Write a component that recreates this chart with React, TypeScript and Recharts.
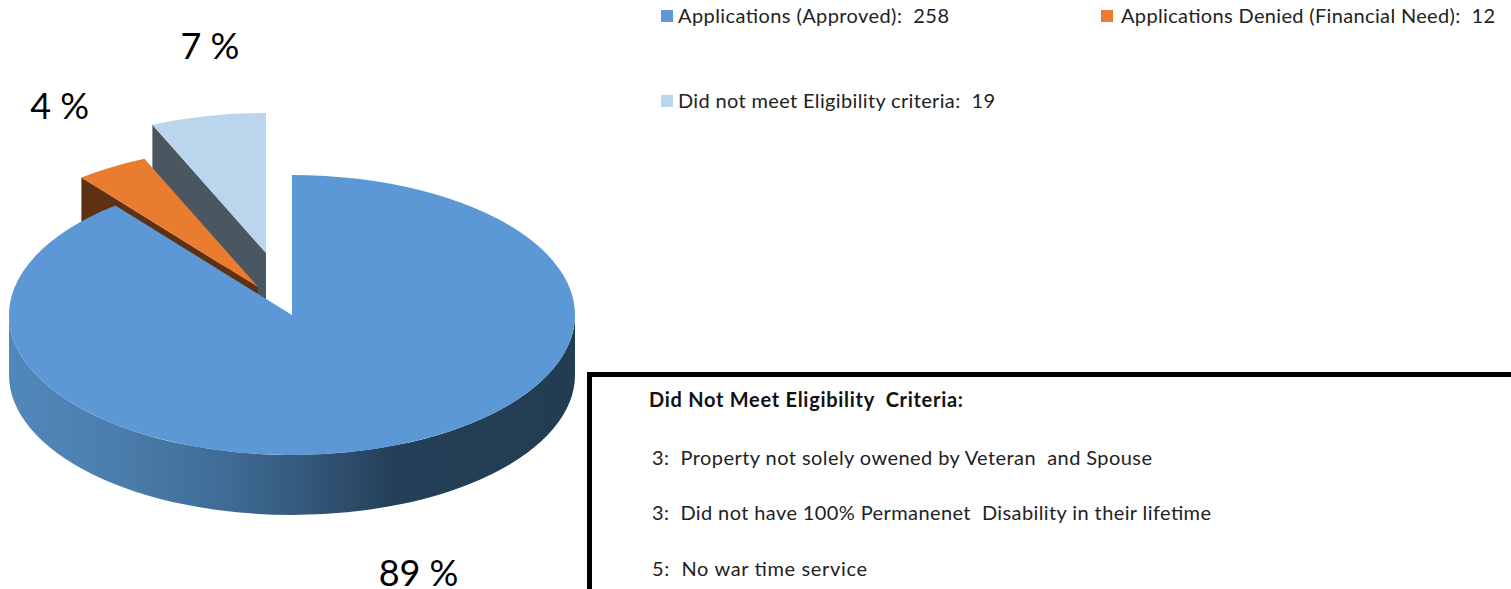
import React from "react";
import { PieChart, Pie, Legend } from "recharts";

// ---- data ----
const categories = [
  "Applications (Approved)",
  "Applications Denied (Financial Need)",
  "Did not meet Eligibility criteria",
];
const counts = [258, 12, 19];
const reasonTitle = "Did Not Meet Eligibility  Criteria:";
const reasonCounts = [3, 3, 5];
const reasonTexts = [
  "Property not solely owened by Veteran  and Spouse",
  "Did not have 100% Permanenet  Disability in their lifetime",
  "No war time service",
];

// ---- styling / layout ----
const topColors = ["#5b98d5", "#ea7c30", "#bbd5ec"];
const wallColors = ["#3f6f9c", "#5f3012", "#4a5760"];
const explodeX = [0, -34, -26];
const explodeY = [0, -28, -62];
const labelDX = [33, -52, 2];
const labelDY = [65, -62, -71];
const legendX = [661, 1101, 661];
const legendY = [10, 10, 95];
const legendTextX = [678, 1121, 678];
const legendTextW = [271, 374, 317];
const reasonY = [465, 520, 576];
const reasonW = [500, 559, 215];

const FONT = "Lato, 'Open Sans', sans-serif";
const SQUASH = 140 / 283;
const DEPTH = 60;
const W = 1511;
const H = 589;

const table = categories
  .map((name, i) => ({ name, value: counts[i], idx: i, fill: topColors[i] }))
  .reverse();

const rad = (d: number) => (d * Math.PI) / 180;

function Slice(props: any) {
  const { cx, cy, outerRadius: r, startAngle, endAngle } = props;
  const idx: number = props.idx ?? props.payload?.idx ?? 0;
  const ox = cx + explodeX[idx];
  const oy = cy + explodeY[idx];
  const ry = r * SQUASH;
  const px = (a: number) => ox + r * Math.cos(rad(a));
  const py = (a: number) => oy - ry * Math.sin(rad(a));
  const large = endAngle - startAngle > 180 ? 1 : 0;
  const top = `M${ox},${oy} L${px(startAngle)},${py(startAngle)} A${r},${ry} 0 ${large} 0 ${px(endAngle)},${py(endAngle)} Z`;
  const cut = `M${ox},${oy} L${px(endAngle)},${py(endAngle)} L${px(endAngle)},${py(endAngle) + DEPTH} L${ox},${oy + DEPTH} Z`;
  const showRim = endAngle - startAngle > 180;
  const rim = `M${ox - r},${oy} A${r},${ry} 0 0 0 ${ox + r},${oy} L${ox + r},${oy + DEPTH} A${r},${ry} 0 0 1 ${ox - r},${oy + DEPTH} Z`;
  return (
    <g>
      {showRim && (
        <>
          <defs>
            <linearGradient id="rimGrad" x1="0" x2="1" y1="0" y2="0">
              <stop offset="0" stopColor="#5188bb" />
              <stop offset="0.2" stopColor="#4b7dab" />
              <stop offset="0.38" stopColor="#3f6c96" />
              <stop offset="0.52" stopColor="#34597c" />
              <stop offset="0.68" stopColor="#243f57" />
              <stop offset="1" stopColor="#223d53" />
            </linearGradient>
          </defs>
          <path d={rim} fill="url(#rimGrad)" />
        </>
      )}
      {!showRim && <path d={cut} fill={wallColors[idx]} />}
      <path d={top} fill={topColors[idx]} />
    </g>
  );
}

function PercentLabel(props: any) {
  const { cx, cy, midAngle, outerRadius: r, percent } = props;
  const idx: number = props.idx ?? props.payload?.idx ?? 0;
  const x = cx + explodeX[idx] + r * Math.cos(rad(midAngle)) + labelDX[idx];
  const y = cy + explodeY[idx] - r * SQUASH * Math.sin(rad(midAngle)) + (idx === 0 ? DEPTH : 0) + labelDY[idx];
  return (
    <text x={x} y={y} textAnchor="middle" dominantBaseline="central" fontFamily={FONT} fontSize={36} fill="#000" style={{ whiteSpace: "pre" }}>
      {`${Math.round(percent * 100)} %`}
    </text>
  );
}

function LegendBlock() {
  return (
    <svg width={W} height={H} style={{ display: "block", overflow: "visible" }}>
      {categories.map((c, i) => (
        <g key={c}>
          <rect x={legendX[i]} y={legendY[i]} width={12} height={12} fill={topColors[i]} />
          <text
            x={legendTextX[i]}
            y={legendY[i] + 13}
            fontFamily={FONT}
            fontSize={20}
            fill="#222"
            textLength={legendTextW[i]}
            lengthAdjust="spacing"
            style={{ whiteSpace: "pre" }}
          >
            {`${c}:  ${counts[i]}`}
          </text>
        </g>
      ))}
    </svg>
  );
}

export default function App() {
  return (
    <div style={{ position: "absolute", left: 0, top: 0, width: W, height: H, overflow: "hidden", background: "#fff" }}>
      <PieChart width={W} height={H} margin={{ top: 0, right: 0, bottom: 0, left: 0 }}>
        <Pie
          data={table}
          dataKey="value"
          nameKey="name"
          cx={292}
          cy={315}
          innerRadius={0}
          outerRadius={283}
          startAngle={90}
          endAngle={450}
          stroke="none"
          isAnimationActive={false}
          shape={Slice}
          label={PercentLabel}
          labelLine={false}
        />
        <Legend
          content={LegendBlock}
          wrapperStyle={{ position: "absolute", left: 0, top: 0, width: W, height: H, pointerEvents: "none" }}
        />
      </PieChart>
      <svg width={W} height={H} style={{ position: "absolute", left: 0, top: 0, pointerEvents: "none" }}>
        <path d={`M589.5,${H + 4} L589.5,374.5 L${W + 4},374.5`} fill="none" stroke="#000" strokeWidth={5} />
        <text x={649} y={407} fontFamily={FONT} fontWeight={700} fontSize={20} fill="#111" textLength={314} lengthAdjust="spacing" style={{ whiteSpace: "pre" }}>
          {reasonTitle}
        </text>
        {reasonTexts.map((t, i) => (
          <text key={t} x={652} y={reasonY[i]} fontFamily={FONT} fontSize={20} fill="#222" textLength={reasonW[i]} lengthAdjust="spacing" style={{ whiteSpace: "pre" }}>
            {`${reasonCounts[i]}:  ${t}`}
          </text>
        ))}
      </svg>
    </div>
  );
}
